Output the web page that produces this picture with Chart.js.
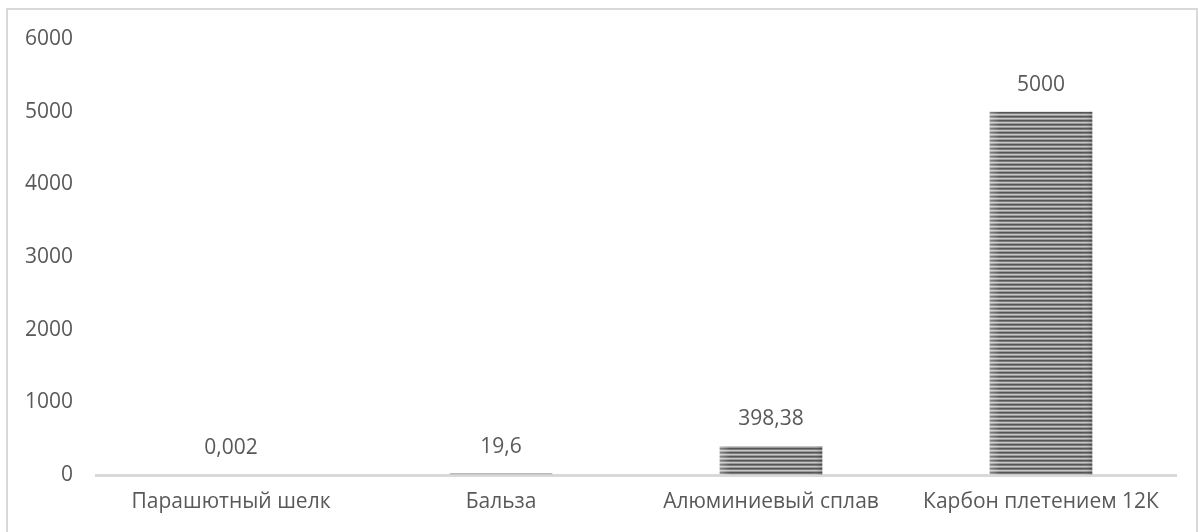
<!DOCTYPE html>
<html>
<head>
<meta charset="utf-8">
<script src="https://cdn.jsdelivr.net/npm/chart.js@4"></script>
<style>
  html, body { margin: 0; padding: 0; background: #fff; }
  #wrap { width: 1198px; height: 532px; position: relative; }
</style>
</head>
<body>
<div id="wrap"><canvas id="chart" width="1198" height="532"></canvas></div>
<script>
// data
const categories = ['Парашютный шелк', 'Бальза', 'Алюминиевый сплав', 'Карбон плетением 12К'];
const values = [0.002, 19.6, 398.38, 5000];
const yTicks = [0, 1000, 2000, 3000, 4000, 5000, 6000];

const textColor = '#595959';
const fontFamily = '"Open Sans", "Noto Sans", sans-serif';
const fontSize = 21;

// striped fill like the original
function makeStripes() {
  const c = document.createElement('canvas');
  c.width = 1;
  c.height = 4;
  const g = c.getContext('2d');
  const rows = ['#555555', '#7a7a7a', '#c8c8c8', '#999999'];
  rows.forEach((col, i) => {
    g.fillStyle = col;
    g.fillRect(0, i, 1, 1);
  });
  return g.createPattern(c, 'repeat');
}

// frame around the chart
const framePlugin = {
  id: 'frame',
  beforeDraw(chart) {
    const ctx = chart.ctx;
    ctx.save();
    ctx.strokeStyle = '#d9d9d9';
    ctx.lineWidth = 2;
    ctx.strokeRect(7, 9, 1190, 600);
    ctx.restore();
  }
};

// value labels above each bar, with comma decimals
const valueLabels = {
  id: 'valueLabels',
  afterDatasetsDraw(chart) {
    const ctx = chart.ctx;
    const meta = chart.getDatasetMeta(0);
    ctx.save();
    ctx.fillStyle = textColor;
    ctx.font = fontSize + 'px ' + fontFamily;
    ctx.textAlign = 'center';
    ctx.textBaseline = 'middle';
    meta.data.forEach((bar, i) => {
      const txt = String(values[i]).replace('.', ',');
      ctx.fillText(txt, bar.x, bar.y - 27);
    });
    ctx.restore();
  }
};

// soft shading on the bar edges
const barShade = {
  id: 'barShade',
  afterDatasetsDraw(chart) {
    const ctx = chart.ctx;
    const meta = chart.getDatasetMeta(0);
    ctx.save();
    meta.data.forEach(bar => {
      const left = bar.x - bar.width / 2;
      const right = bar.x + bar.width / 2;
      const h = bar.base - bar.y;
      if (h < 3) return;
      const gr = ctx.createLinearGradient(left, 0, right, 0);
      gr.addColorStop(0, 'rgba(255,255,255,0.3)');
      gr.addColorStop(0.1, 'rgba(255,255,255,0)');
      gr.addColorStop(0.9, 'rgba(255,255,255,0)');
      gr.addColorStop(1, 'rgba(0,0,0,0.15)');
      ctx.fillStyle = gr;
      ctx.fillRect(left, bar.y, bar.width, h);
    });
    ctx.restore();
  }
};

const ctx = document.getElementById('chart').getContext('2d');
new Chart(ctx, {
  type: 'bar',
  data: {
    labels: categories,
    datasets: [{
      data: values,
      backgroundColor: makeStripes(),
      borderWidth: 0,
      categoryPercentage: 1,
      barPercentage: 0.38
    }]
  },
  options: {
    responsive: false,
    animation: false,
    layout: { padding: { left: 7, top: 39, right: 22, bottom: 0 } },
    plugins: {
      legend: { display: false },
      tooltip: { enabled: false }
    },
    scales: {
      x: {
        z: 1,
        grid: { display: false, drawTicks: false },
        border: { display: true, color: '#d9d9d9', width: 3 },
        ticks: {
          color: textColor,
          font: { family: fontFamily, size: fontSize },
          padding: 14,
          maxRotation: 0,
          autoSkip: false
        },
        afterFit(scale) { scale.height = 57; }
      },
      y: {
        min: 0,
        max: 6000,
        afterBuildTicks(scale) { scale.ticks = yTicks.map(v => ({ value: v })); },
        grid: { display: false, drawTicks: false },
        border: { display: false },
        ticks: {
          color: textColor,
          font: { family: fontFamily, size: fontSize },
          padding: 23,
          callback: v => String(v)
        },
        afterFit(scale) { scale.width = 89; }
      }
    }
  },
  plugins: [framePlugin, barShade, valueLabels]
});
</script>
</body>
</html>
